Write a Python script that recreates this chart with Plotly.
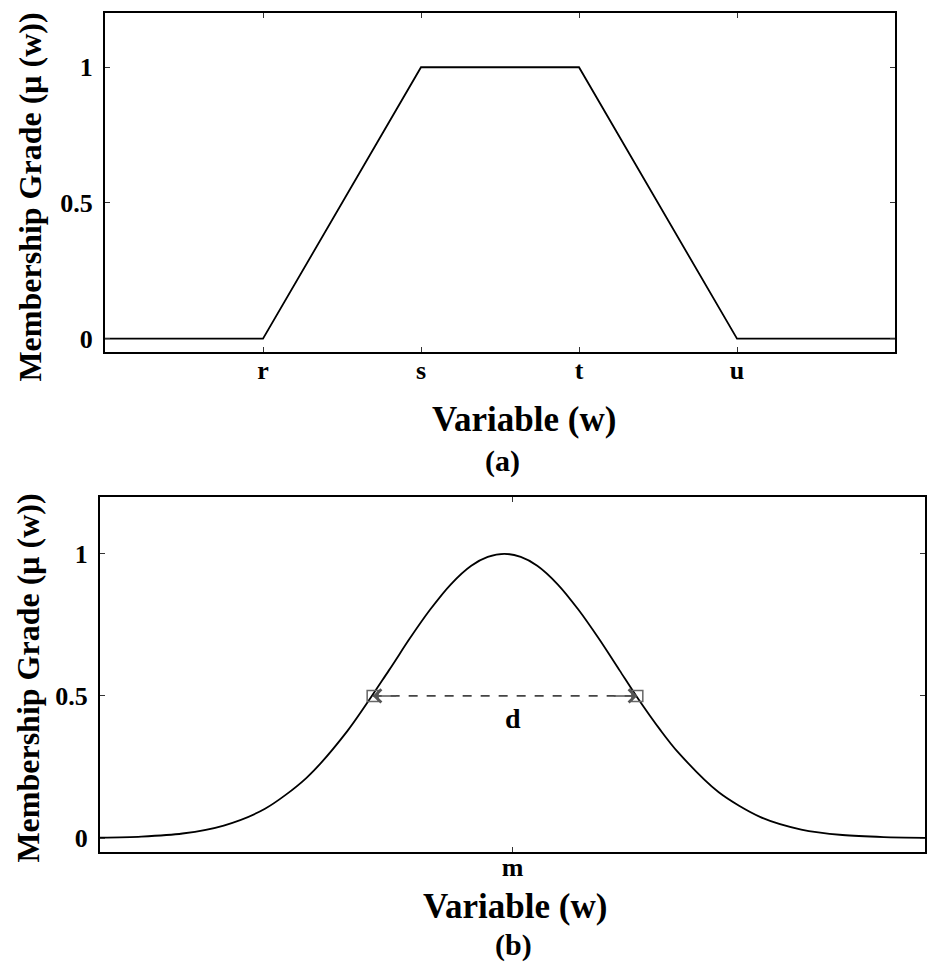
import plotly.graph_objects as go

# ---- data ----
trap_x = [0, 1, 2, 3, 4, 5]
trap_y = [0, 0, 1, 1, 0, 0]
trap_tickvals = [1, 2, 3, 4]
trap_ticktext = ["r", "s", "t", "u"]

gauss_x = [0, 0.5, 1, 1.5, 2, 2.5, 3, 3.5, 3.75, 4, 4.25, 4.5, 4.7, 4.9, 5.1, 5.3, 5.55,
           5.8, 6.05, 6.3, 6.5, 6.8, 7, 7.5, 8, 8.5, 9, 9.5, 10]
gauss_y = [0.0015, 0.0053, 0.016, 0.044, 0.103, 0.211, 0.377, 0.589, 0.700, 0.803, 0.892,
           0.958, 0.989, 1.0, 0.989, 0.958, 0.892, 0.803, 0.700, 0.589, 0.50, 0.377, 0.304,
           0.161, 0.0745, 0.030, 0.0107, 0.0033, 0.0009]
gauss_tickvals = [5]
gauss_ticktext = ["m"]
half_x = [3.305, 6.513]
half_y = [0.5, 0.5]

ytick_vals = [0, 0.5, 1]
ytick_text = ["0", "0.5", "1"]

FONT = "Liberation Serif"
W, H = 927, 972

fig = go.Figure()

fig.add_trace(go.Scatter(x=trap_x, y=trap_y, mode="lines",
                         line=dict(color="black", width=1.8),
                         xaxis="x", yaxis="y", showlegend=False, hoverinfo="skip"))

fig.add_trace(go.Scatter(x=gauss_x, y=gauss_y, mode="lines",
                         line=dict(color="black", width=1.8, shape="spline", smoothing=0.8),
                         xaxis="x2", yaxis="y2", showlegend=False, hoverinfo="skip"))

fig.add_trace(go.Scatter(x=half_x, y=half_y, mode="lines",
                         line=dict(color="#444444", width=1.8, dash="dash"),
                         xaxis="x2", yaxis="y2", showlegend=False, hoverinfo="skip"))
fig.add_trace(go.Scatter(x=half_x, y=half_y, mode="markers",
                         marker=dict(symbol="square-open", size=11, color="#666666",
                                     line=dict(width=1.5, color="#666666")),
                         xaxis="x2", yaxis="y2", showlegend=False, hoverinfo="skip"))

axis_common = dict(showline=True, linecolor="black", linewidth=2, mirror="ticks",
                   ticks="inside", ticklen=5, tickwidth=1, tickcolor="#333333",
                   showgrid=False, zeroline=False,
                   tickfont=dict(family=FONT, size=26, color="black"))

bold = lambda s: "<b>" + s + "</b>"

fig.update_layout(
    width=W, height=H, margin=dict(l=0, r=0, t=0, b=0),
    paper_bgcolor="white", plot_bgcolor="white",
    xaxis=dict(domain=[105 / W, 895 / W], range=[0, 5], anchor="y", ticklabelstandoff=-6,
               tickvals=trap_tickvals, ticktext=[bold(t) for t in trap_ticktext], **axis_common),
    yaxis=dict(domain=[1 - 353 / H, 1 - 13 / H], range=[-0.05, 1.2], anchor="x", ticklabelstandoff=5,
               tickvals=ytick_vals, ticktext=[bold(t) for t in ytick_text], **axis_common),
    xaxis2=dict(domain=[100 / W, 925 / W], range=[0, 10], anchor="y2", ticklabelstandoff=-9,
                tickvals=gauss_tickvals, ticktext=[bold(t) for t in gauss_ticktext], **axis_common),
    yaxis2=dict(domain=[1 - 854 / H, 1 - 498 / H], range=[-0.05, 1.2], anchor="x2", ticklabelstandoff=5,
                tickvals=ytick_vals, ticktext=[bold(t) for t in ytick_text], **axis_common),
)

ann = []
def txt(x, y, s, size, angle=0, xref="paper", yref="paper"):
    ann.append(dict(x=x, y=y, xref=xref, yref=yref, text=bold(s), showarrow=False,
                    textangle=angle, xanchor="center", yanchor="middle",
                    font=dict(family=FONT, size=size, color="black")))

txt(524 / W, 1 - 420 / H, "Variable (w)", 35)
txt(503 / W, 1 - 462 / H, "(a)", 30)
txt(30 / W, 1 - 198 / H, "Membership Grade (μ (w))", 32, angle=-90)
txt(515 / W, 1 - 908 / H, "Variable (w)", 35)
txt(513 / W, 1 - 947 / H, "(b)", 30)
txt(28 / W, 1 - 680 / H, "Membership Grade (μ (w))", 32, angle=-90)
txt(5.0, 0.42, "d", 28, xref="x2", yref="y2")

# arrowheads at both ends of the dashed line
for xe, ax in [(half_x[0], 25), (half_x[1], -25)]:
    ann.append(dict(x=xe, y=0.5, xref="x2", yref="y2", ax=ax, ay=0, axref="pixel", ayref="pixel",
                    showarrow=True, arrowhead=4, arrowsize=1.6, arrowwidth=1.6,
                    arrowcolor="#555555", text=""))

fig.update_layout(annotations=ann)

fig.write_html("out.html", config={"displayModeBar": False},
               post_script="document.body.style.margin='0';")
